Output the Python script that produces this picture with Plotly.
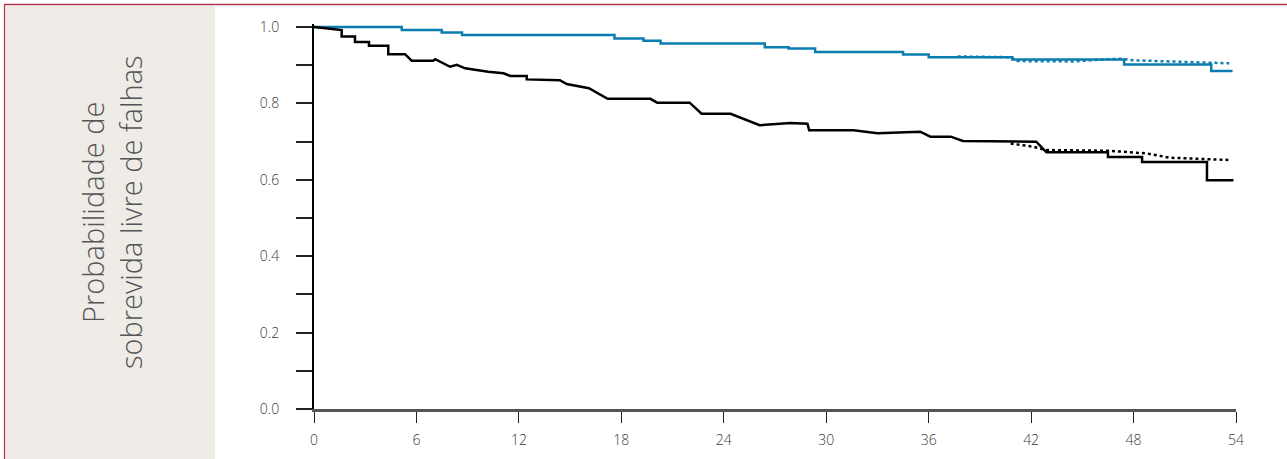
import plotly.graph_objects as go

# ---- data ----
x_ticks = [0, 6, 12, 18, 24, 30, 36, 42, 48, 54]
y_tickvals = [0.0, 0.1, 0.2, 0.3, 0.4, 0.5, 0.6, 0.7, 0.8, 0.9, 1.0]
y_ticktext = ["0.0", "", "0.2", "", "0.4", "", "0.6", "", "0.8", "", "1.0"]

blue_t = [0, 5.14, 7.48, 8.67, 17.6, 19.3, 20.3, 26.4, 27.8, 29.35, 34.5, 36.0, 40.9, 47.45, 52.55, 53.8]
blue_p = [1.0, 0.992, 0.986, 0.979, 0.970, 0.964, 0.957, 0.947, 0.944, 0.935, 0.928, 0.921, 0.915, 0.902, 0.885, 0.885]

blue_fit_t = [37.7, 40.8, 41.2, 44.5, 46.5, 47.2, 48.0, 50.0, 52.4, 53.6]
blue_fit_p = [0.923, 0.921, 0.911, 0.910, 0.916, 0.917, 0.913, 0.910, 0.906, 0.905]

black_t = [0, 1.62, 1.62, 2.4, 2.4, 3.22, 3.22, 4.35, 4.35, 5.33, 5.72, 6.98, 7.1, 7.97, 8.36, 8.85,
           10.2, 11.1, 11.5, 12.46, 12.46, 14.4, 14.8, 16.1, 17.2, 19.7, 20.1, 22.0, 22.7, 24.4, 26.1,
           27.9, 28.9, 29.0, 31.6, 33.0, 35.5, 36.1, 37.3, 38.0, 42.3, 42.9, 46.5, 46.5, 48.5, 48.5,
           52.3, 52.3, 53.85]
black_p = [1.0, 0.992, 0.975, 0.975, 0.961, 0.961, 0.951, 0.951, 0.929, 0.929, 0.912, 0.912, 0.916, 0.896, 0.901, 0.892,
           0.883, 0.879, 0.872, 0.872, 0.863, 0.861, 0.851, 0.840, 0.812, 0.812, 0.802, 0.802, 0.773, 0.773, 0.743,
           0.749, 0.747, 0.730, 0.730, 0.722, 0.726, 0.713, 0.713, 0.702, 0.700, 0.672, 0.672, 0.660, 0.660, 0.647,
           0.647, 0.599, 0.599]

black_fit_t = [40.8, 42.1, 42.9, 46.6, 48.8, 50.1, 53.55]
black_fit_p = [0.695, 0.687, 0.678, 0.676, 0.669, 0.658, 0.652]

y_title = "Probabilidade de<br>sobrevida livre de falhas"

# ---- layout geometry ----
W, H = 1287, 459
Y_TOP = 1.008
X0_PX, X1_PX = 314, 1236
Y0_PX, Y1_PX = 409, 27          # pixel rows of p=0 and p=1
UNIT = Y0_PX - Y1_PX
L, R = X0_PX, W - X1_PX
B = H - Y0_PX
T = Y0_PX - UNIT * Y_TOP
PW, PH = W - L - R, H - T - B

def px(x):
    return (x - L) / PW

def py(y):
    return (H - B - y) / PH

BLUE = "#0b7db1"
RED = "#b3344f"
FONT = "Open Sans"

fig = go.Figure()
fig.add_trace(go.Scatter(x=blue_t, y=blue_p, mode="lines", line=dict(color=BLUE, width=2.5, shape="hv"),
                         showlegend=False, hoverinfo="skip"))
fig.add_trace(go.Scatter(x=blue_fit_t, y=blue_fit_p, mode="lines", line=dict(color=BLUE, width=2.5, dash="dot"),
                         showlegend=False, hoverinfo="skip"))
fig.add_trace(go.Scatter(x=black_t, y=black_p, mode="lines", line=dict(color="black", width=2.5),
                         showlegend=False, hoverinfo="skip"))
fig.add_trace(go.Scatter(x=black_fit_t, y=black_fit_p, mode="lines", line=dict(color="black", width=2.5, dash="dot"),
                         showlegend=False, hoverinfo="skip"))

shapes = [
    dict(type="rect", xref="paper", yref="paper", x0=px(5), x1=px(215), y0=py(6), y1=py(470),
         fillcolor="#efebe7", line=dict(width=0), layer="below"),
    dict(type="line", xref="paper", yref="paper", x0=px(4), x1=px(1300), y0=py(4.5), y1=py(4.5),
         line=dict(color=RED, width=1.5)),
    dict(type="line", xref="paper", yref="paper", x0=px(4.5), x1=px(4.5), y0=py(4.5), y1=py(470),
         line=dict(color=RED, width=1.2)),
]

fig.update_layout(
    width=W, height=H,
    margin=dict(l=L, r=R, t=T, b=B, autoexpand=False),
    paper_bgcolor="white", plot_bgcolor="white",
    shapes=shapes,
    font=dict(family=FONT, color="#444"),
    xaxis=dict(range=[0, 54], tickvals=x_ticks, ticktext=[str(v) for v in x_ticks],
               showgrid=False, zeroline=False, showline=True, linecolor="#555", linewidth=2.5,
               ticks="outside", ticklen=11, tickwidth=1.2, tickcolor="#222",
               tickfont=dict(size=14, color="#3a3a3a", family=FONT, weight=300), ticklabelstandoff=5, automargin=False),
    yaxis=dict(range=[0, Y_TOP], tickvals=y_tickvals, ticktext=y_ticktext,
               showgrid=False, zeroline=False, showline=True, linecolor="black", linewidth=2,
               ticks="outside", ticklen=16, tickwidth=1.5, tickcolor="#222",
               tickfont=dict(size=14, color="#3a3a3a", family=FONT, weight=300), ticklabelstandoff=14, automargin=False),
    annotations=[
        dict(text=y_title, xref="paper", yref="paper", x=px(111), y=py(212), textangle=-90,
             showarrow=False, font=dict(size=29, color="#555", family=FONT, weight=300), align="center",
             xanchor="center", yanchor="middle")
    ],
)

fig.write_html("out.html")
